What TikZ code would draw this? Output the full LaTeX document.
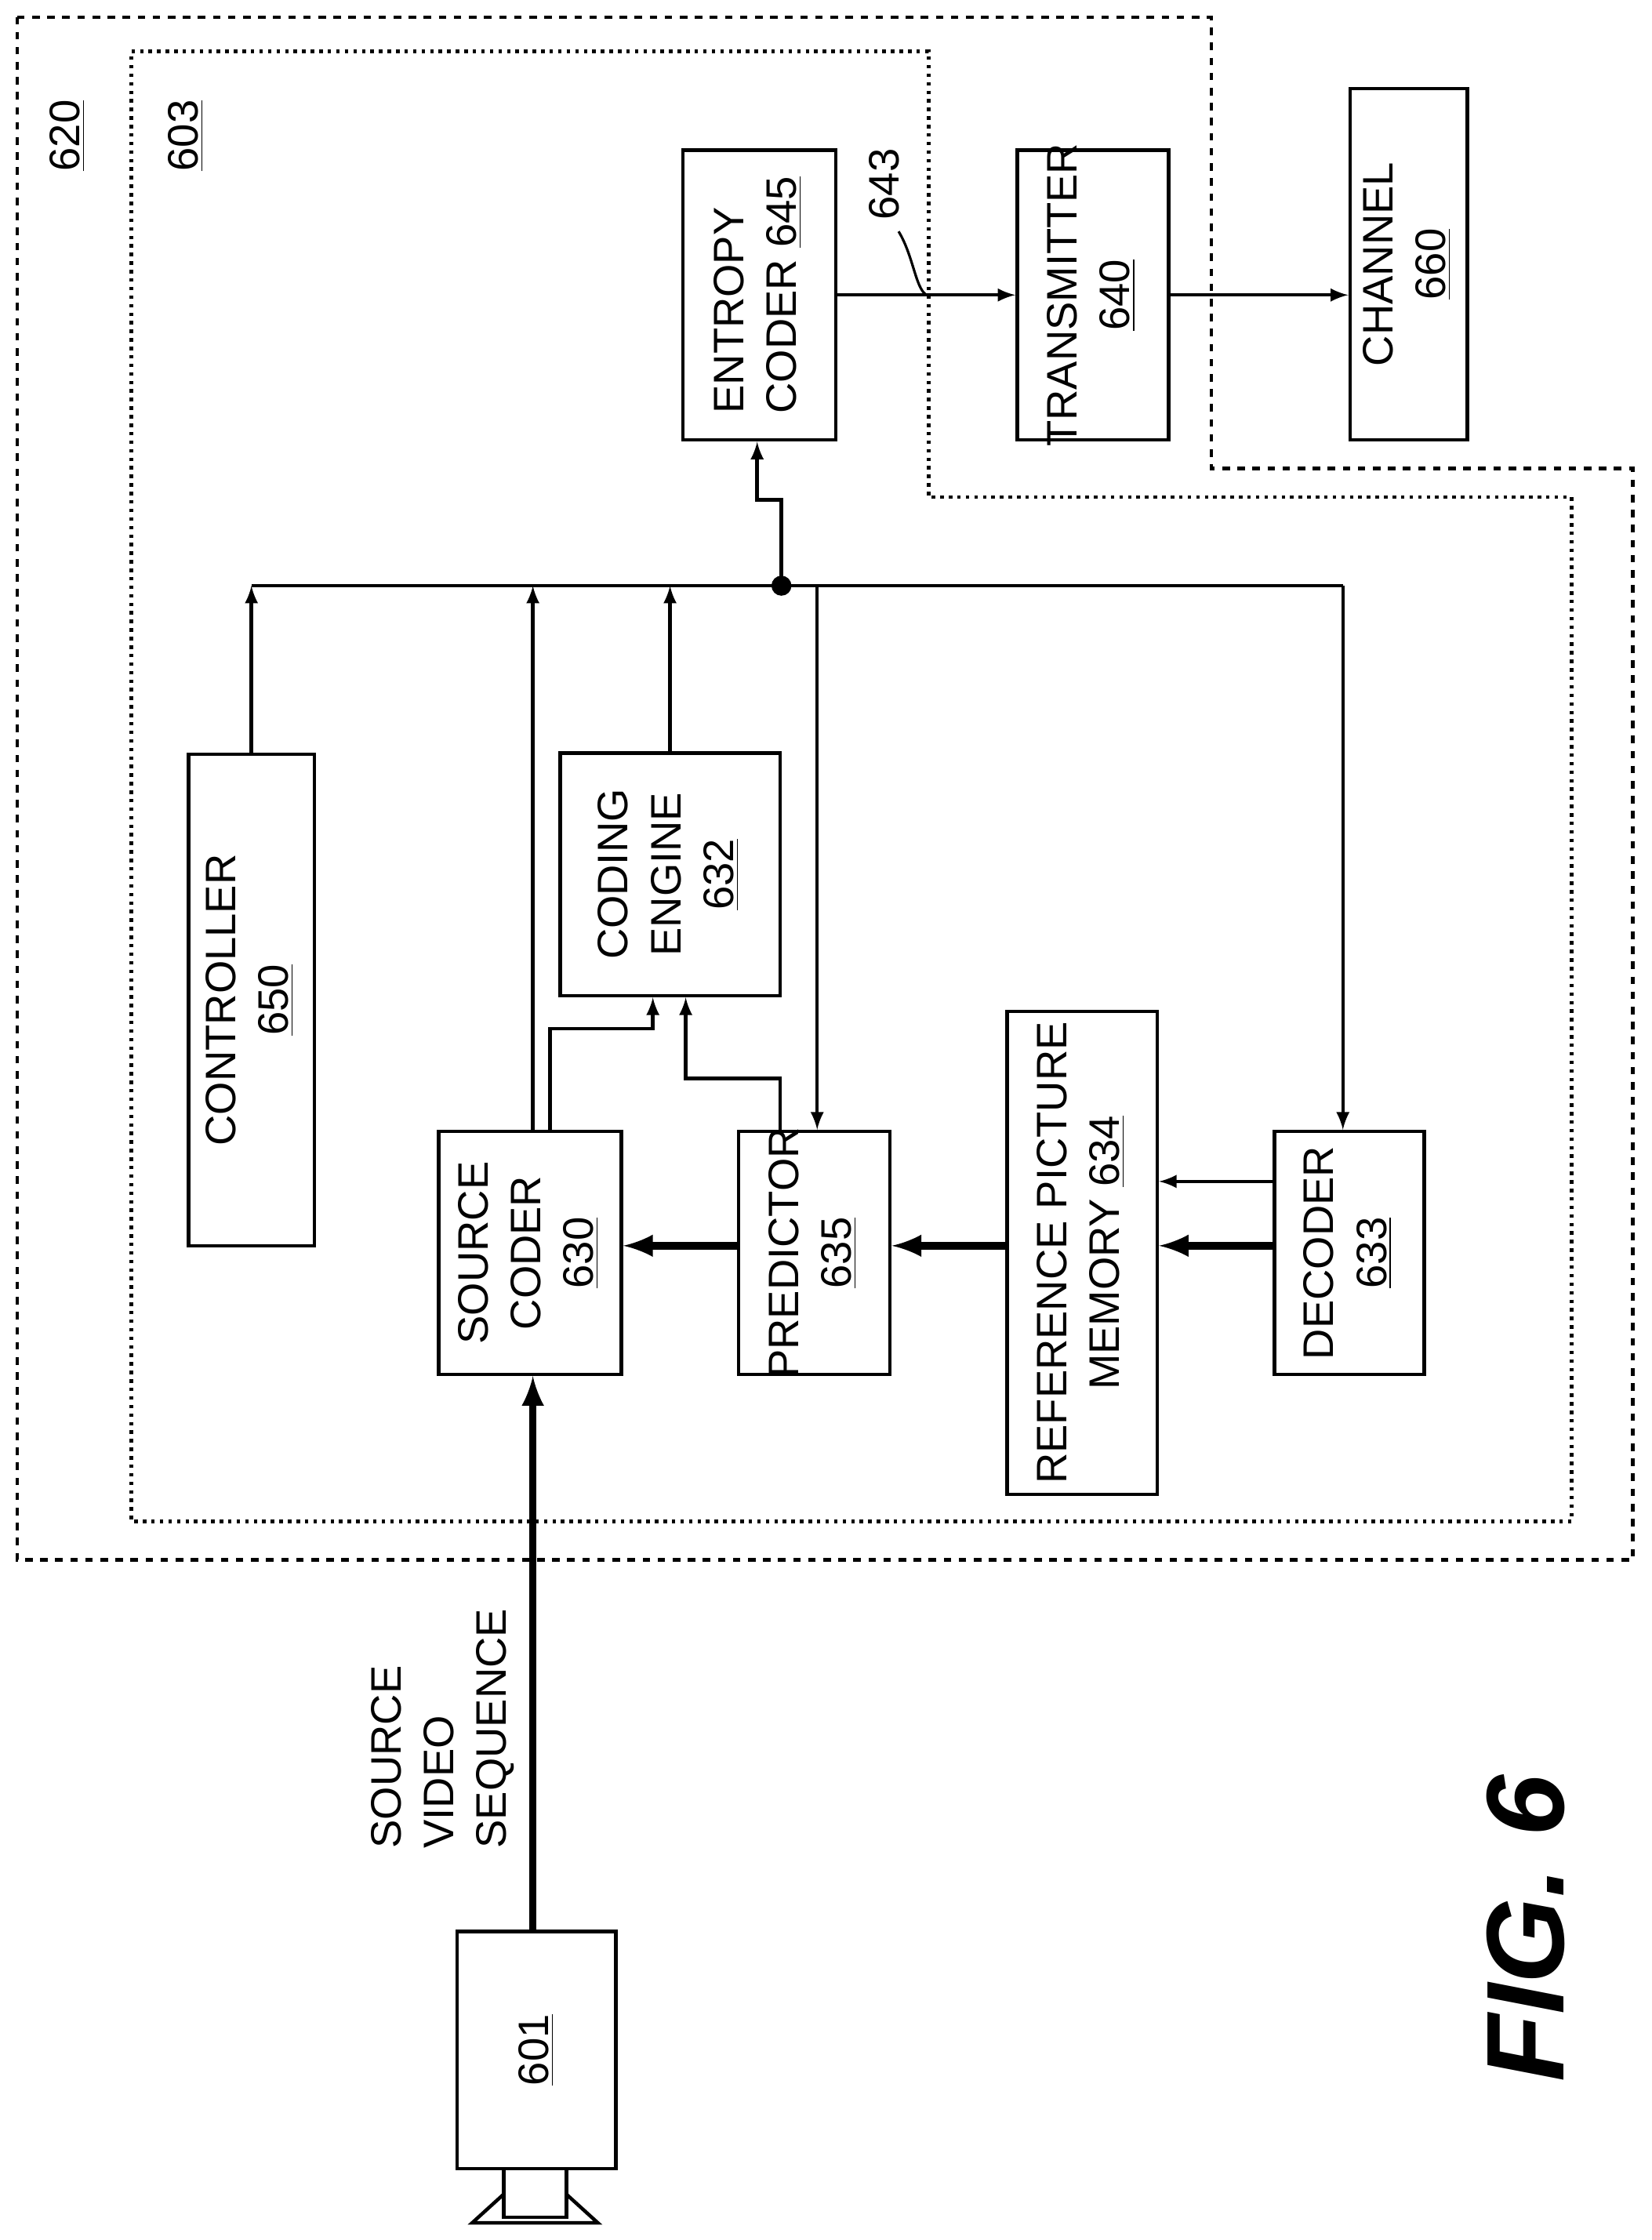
\documentclass[tikz,border=0pt]{standalone}
\usepackage{fontspec}
\setmainfont{Liberation Sans}
\usetikzlibrary{arrows,positioning}
\tikzset{
  blk/.style={draw,line width=1.4pt,inner sep=0pt,font=\fontsize{17}{21}\selectfont},
  con/.style={line width=1.4pt},
  thk/.style={line width=3pt},
}
\newcommand{\rt}[1]{\rotatebox{90}{\makebox[0pt][c]{\begin{tabular}{@{}c@{}}#1\end{tabular}}}}
\begin{document}
\begin{tikzpicture}[x=0.02cm,y=-0.02cm,>=latex]
  \useasboundingbox (0,0) rectangle (1156,1568);
  % outer boxes
  \draw[dashed,line width=1.4pt] (12,12) -- (848,12) -- (848,328) -- (1143,328) -- (1143,1092) -- (12,1092) -- cycle;
  \draw[dotted,line width=1.4pt] (92,36) -- (650,36) -- (650,348) -- (1100,348) -- (1100,1065) -- (92,1065) -- cycle;
  \node[font=\fontsize{17}{21}\selectfont] (lab620) at (47,95) {\rotatebox{90}{\underline{620}}};
  \node[font=\fontsize{17}{21}\selectfont] (lab603) at (130,95) {\rotatebox{90}{\underline{603}}};

  \node[blk,minimum width=2.14cm,minimum height=4.06cm] (ent) at (531.5,206.5) {\rotatebox{90}{\begin{tabular}{@{}l@{}}ENTROPY\\CODER \underline{645}\end{tabular}}};
  \node[blk,minimum width=2.12cm,minimum height=4.06cm] (tx) at (765,206.5) {\rt{TRANSMITTER\\\underline{640}}};
  \node[blk,minimum width=1.64cm,minimum height=4.92cm] (chan) at (986,185) {\rt{CHANNEL\\\underline{660}}};
  \node[blk,minimum width=1.76cm,minimum height=6.88cm] (ctrl) at (176,700) {\rt{CONTROLLER\\\underline{650}}};
  \node[blk,minimum width=2.56cm,minimum height=3.4cm] (src) at (371,877) {\rt{SOURCE\\CODER\\\underline{630}}};
  \node[blk,minimum width=3.08cm,minimum height=3.4cm] (eng) at (469,612) {\rt{CODING\\ENGINE\\\underline{632}}};
  \node[blk,minimum width=2.12cm,minimum height=3.4cm] (pred) at (570,877) {\rt{PREDICTOR\\\underline{635}}};
  \node[blk,minimum width=2.1cm,minimum height=6.76cm] (mem) at (757.5,877) {\rt{REFERENCE PICTURE\\MEMORY \underline{634}}};
  \node[blk,minimum width=2.1cm,minimum height=3.4cm] (dec) at (944.5,877) {\rt{DECODER\\\underline{633}}};
  \node[blk,minimum width=2.22cm,minimum height=3.32cm] (cam) at (375.5,1435) {\rotatebox{90}{\underline{601}}};
  % lens
  \draw[line width=1.4pt] (352.5,1518) rectangle (396.5,1552);
  \draw[line width=1.4pt] (352.5,1536) -- (330.5,1556) -- (418.5,1556) -- (396.5,1536);

  \node[font=\fontsize{17}{21}\selectfont] (seq) at (310,1210) {\rotatebox{90}{\begin{tabular}{@{}l@{}}SOURCE\\VIDEO\\SEQUENCE\end{tabular}}};
  \node[font=\fontsize{44}{50}\selectfont\bfseries\itshape] (fig) at (1068,1350) {\rotatebox{90}{FIG. 6}};

  % bus
  \coordinate (bus) at (0,410);
  \coordinate (jn) at (547,410);
  \draw[con] (ctrl.north |- bus) -- (940,410);
  \fill (jn) circle (7);
  \draw[con,->] (jn) -- (547,350) -- (530,350) -- (ent.south -| 530,0);
  \draw[con,->] (ctrl.north) -- (ctrl.north |- bus);
  \draw[con,->] (src.north -| 373,0) -- (373,410);
  \draw[con,->] (eng.north) -- (eng.north |- bus);
  \draw[con,->] (572,410) -- (pred.north -| 572,0);
  \draw[con,->] (940,410) -- (dec.north -| 940,0);
  \draw[con,->] (src.north -| 385,0) -- (385,720) -- (457,720) -- (eng.south -| 457,0);
  \draw[con,->] (pred.north -| 546,0) -- (546,755) -- (480,755) -- (eng.south -| 480,0);

  \draw[con,->] (ent.east) -- (tx.west);
  \draw[con,->] (tx.east) -- (chan.west |- tx.east);
  \node[font=\fontsize{17}{21}\selectfont] (lab643) at (619,129) {\rotatebox{90}{643}};
  \draw[line width=1pt] (629,162) .. controls (640,180) and (641,205) .. (650,207);

  \draw[thk,->] (dec.west |- 0,872) -- (mem.east |- 0,872);
  \draw[con,->] (dec.west |- 0,827) -- (mem.east |- 0,827);
  \draw[thk,->] (mem.west |- 0,872) -- (pred.east |- 0,872);
  \draw[thk,->] (pred.west |- 0,872) -- (src.east |- 0,872);
  \draw[thk,->] (cam.north -| 373,0) -- (src.south -| 373,0);
\end{tikzpicture}
\end{document}
